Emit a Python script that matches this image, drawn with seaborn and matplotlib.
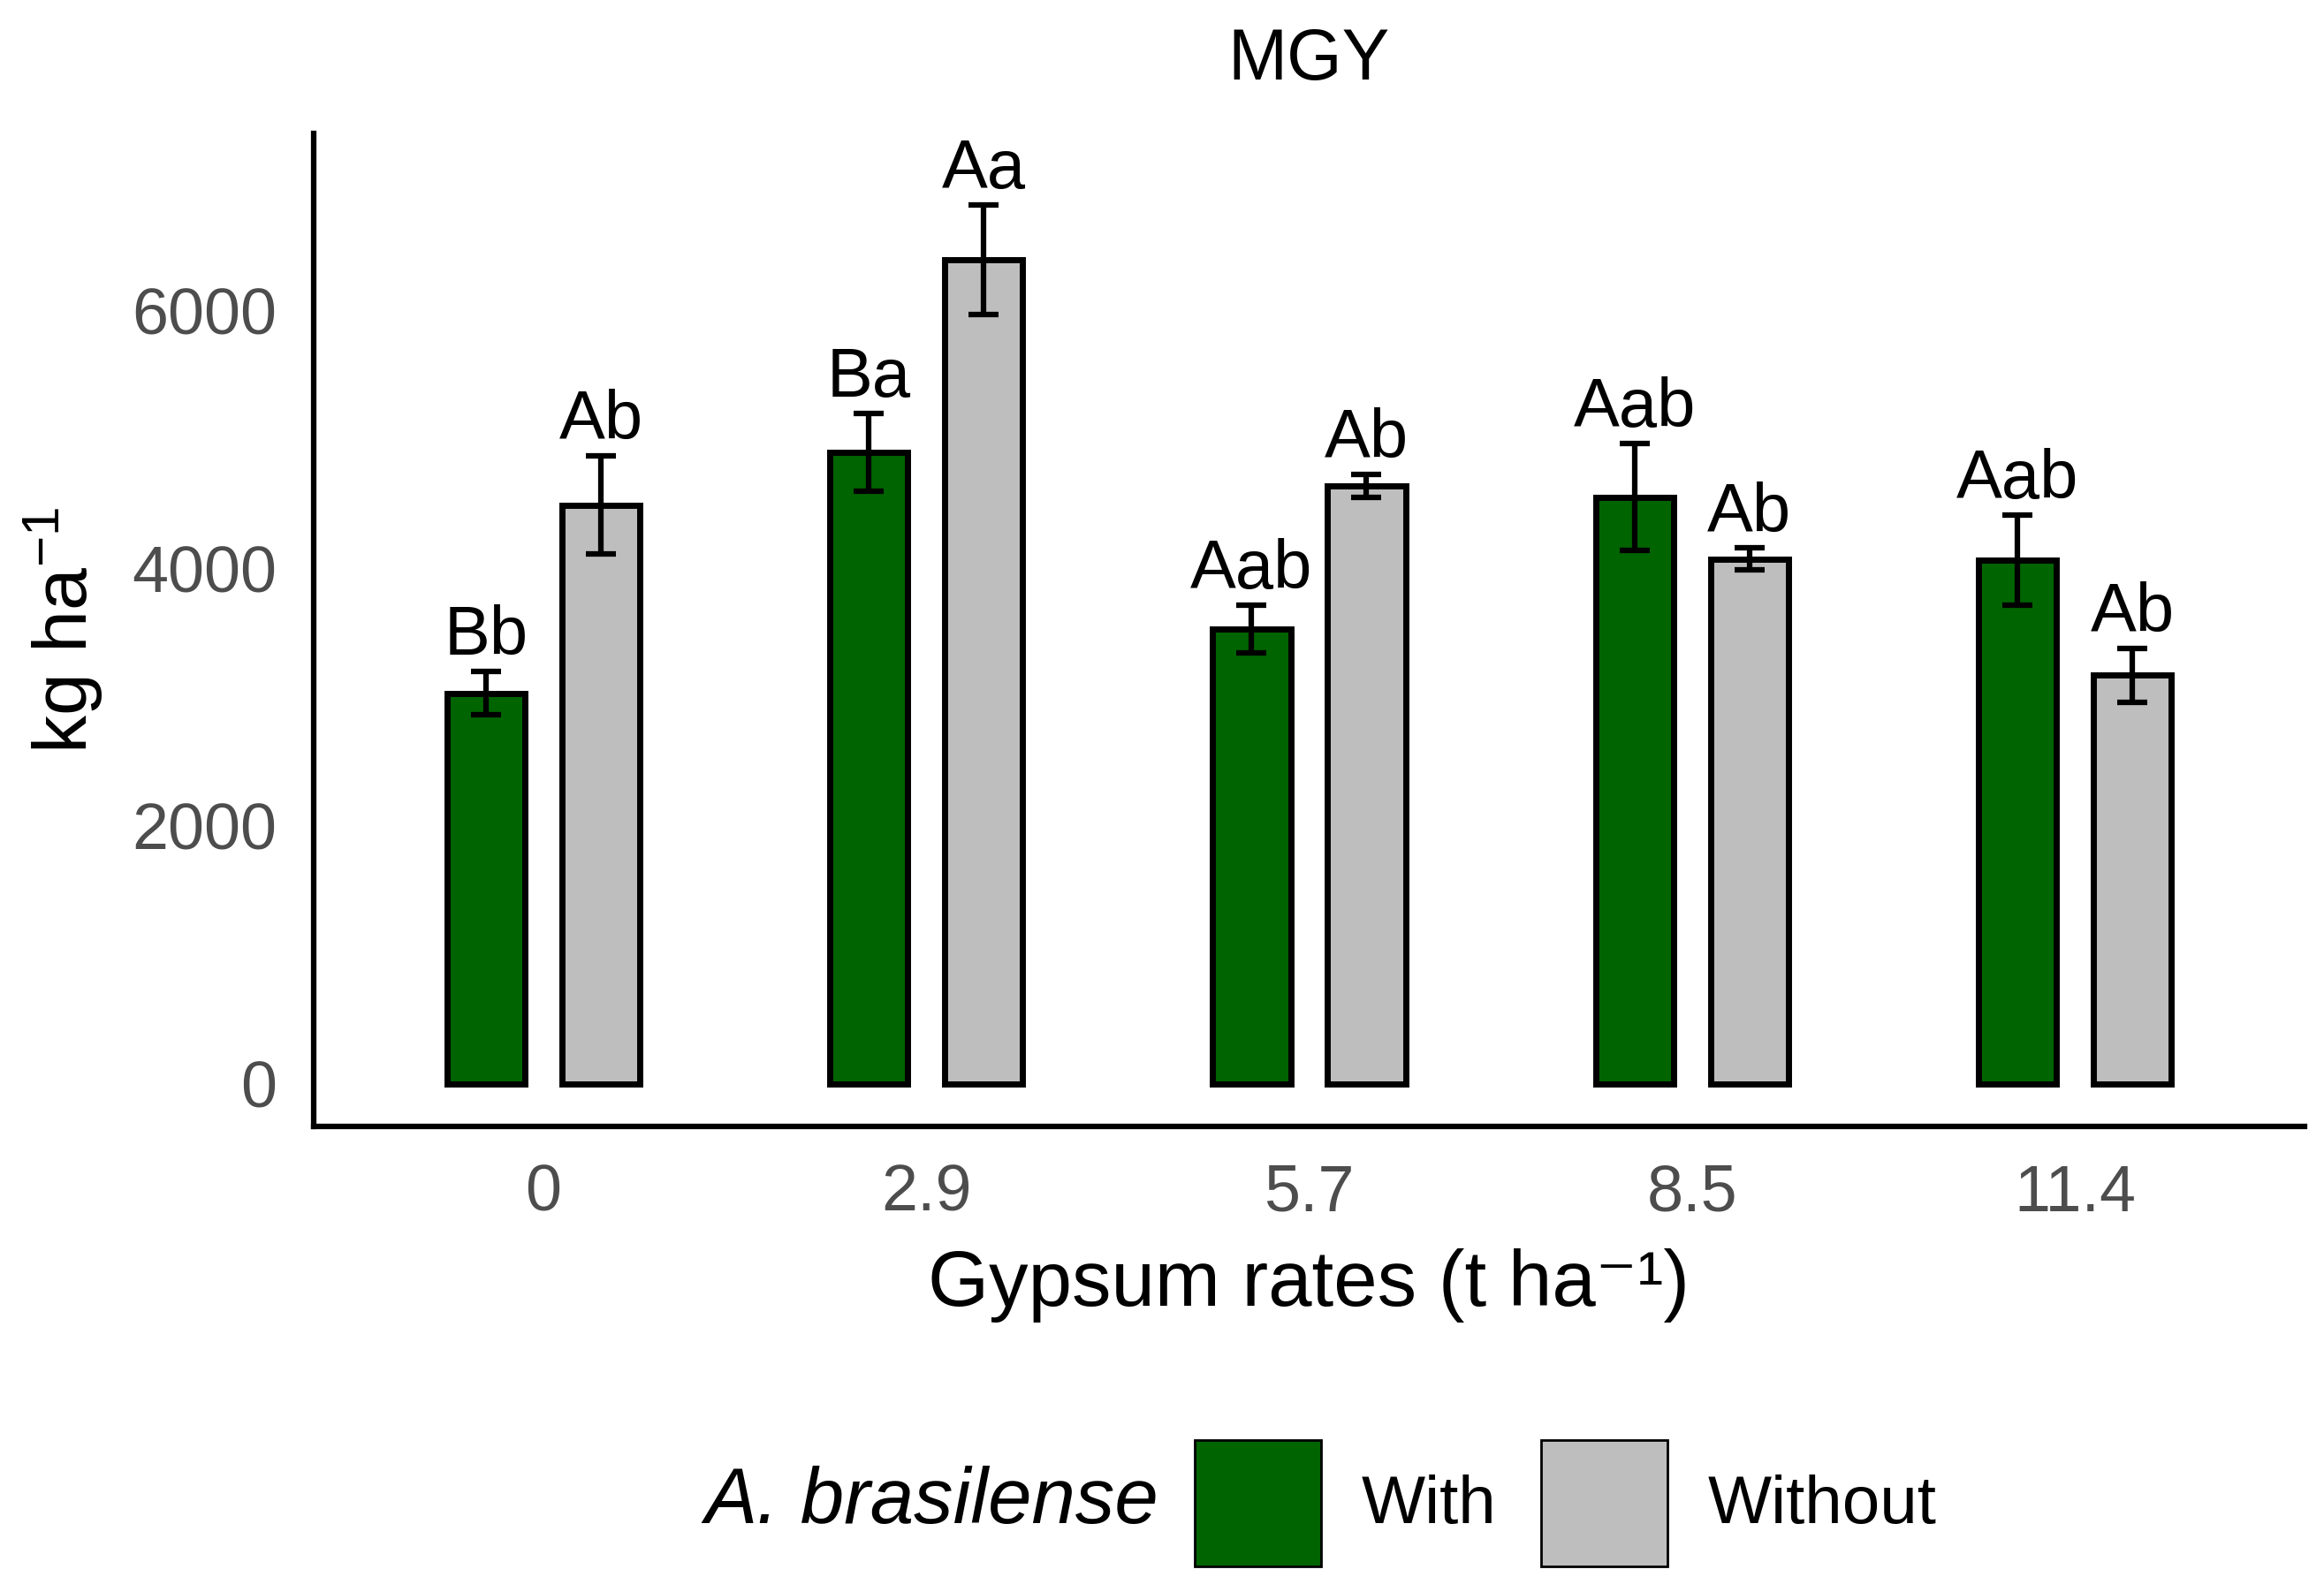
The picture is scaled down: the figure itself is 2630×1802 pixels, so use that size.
import pandas as pd
import matplotlib
matplotlib.use("Agg")
import matplotlib.pyplot as plt
import seaborn as sns
from matplotlib.patches import Patch

# Gypsum rates (t ha-1) and A. brasilense inoculation
rates = ["0", "2.9", "5.7", "8.5", "11.4"]
groups = ["With", "Without"]
with_mean = [3030, 4900, 3530, 4550, 4060]
with_se = [170, 300, 185, 415, 350]
without_mean = [4490, 6390, 4640, 4070, 3170]
without_se = [380, 425, 90, 85, 210]
with_letters = ["Bb", "Ba", "Aab", "Aab", "Aab"]
without_letters = ["Ab", "Aa", "Ab", "Ab", "Ab"]
colors = {"With": "#006400", "Without": "#BEBEBE"}

df = pd.DataFrame({
    "rate": rates * 2,
    "azo": ["With"] * 5 + ["Without"] * 5,
    "mgy": with_mean + without_mean,
})

sns.set_style("white")
plt.rcParams["font.family"] = ["Liberation Sans", "DejaVu Sans"]
plt.rcParams["text.color"] = "black"
plt.rcParams["axes.labelcolor"] = "black"
plt.rcParams["mathtext.fontset"] = "custom"
plt.rcParams["mathtext.rm"] = "Liberation Sans"
plt.rcParams["mathtext.it"] = "Liberation Sans:italic"

fig = plt.figure(figsize=(26.3, 18.02), dpi=100)
ax = fig.add_axes([0.135, 0.2925, 0.8566, 0.6235])

sns.barplot(data=df, x="rate", y="mgy", hue="azo", order=rates, hue_order=groups,
            palette=colors, saturation=1, width=0.6, gap=0.32, edgecolor="black",
            linewidth=5, errorbar=None, legend=False, ax=ax)

for cont, means, ses, letters in zip(ax.containers, [with_mean, without_mean],
                                     [with_se, without_se], [with_letters, without_letters]):
    for bar, m, s, lab in zip(cont, means, ses, letters):
        cx = bar.get_x() + bar.get_width() / 2
        ax.errorbar(cx, m, yerr=s, color="black", elinewidth=4.5, capsize=12.5,
                    capthick=4.5, zorder=4)
        ax.text(cx, m + s + 130, lab, ha="center", va="baseline", fontsize=56,
                color="black")

ax.set_xlim(-0.6, 4.6)
ax.set_ylim(-330, 7370)
ax.set_yticks([0, 2000, 4000, 6000])
ax.tick_params(axis="both", length=0, labelsize=53, labelcolor="#4D4D4D", pad=30)
for side in ["top", "right"]:
    ax.spines[side].set_visible(False)
for side in ["left", "bottom"]:
    ax.spines[side].set_linewidth(4.5)
    ax.spines[side].set_color("black")

ax.set_title("MGY", fontsize=58, pad=44, color="black")
ax.set_xlabel("Gypsum rates (t ha⁻¹)", fontsize=64, labelpad=20)
ax.set_ylabel(r"kg ha$^{-1}$", fontsize=62, labelpad=22)

# legend with title on the left
fig.text(0.4987, 0.056, "A. brasilense", fontsize=64, style="italic",
         ha="right", va="center", color="black")
handles = [Patch(facecolor=colors[g], edgecolor="black", linewidth=2) for g in groups]
fig.legend(handles, groups, loc="center left", bbox_to_anchor=(0.514, 0.056),
           ncol=2, frameon=False, fontsize=55, handlelength=1.87, handleheight=2.5,
           handletextpad=0.6, columnspacing=0.66, borderpad=0, borderaxespad=0,
           labelcolor="black")

fig.savefig("out.png", dpi=100)
